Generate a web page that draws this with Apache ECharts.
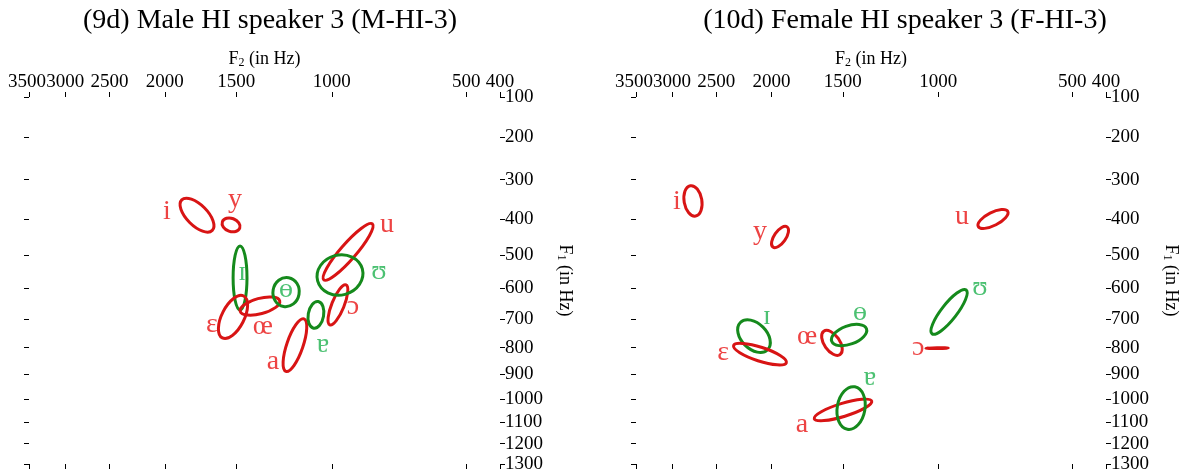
<!DOCTYPE html>
<html><head><meta charset="utf-8">
<script src="https://cdn.jsdelivr.net/npm/echarts@6/dist/echarts.min.js"></script>
<style>html,body{margin:0;padding:0;background:#fff}#c{width:1189px;height:474px}</style>
</head><body><div id="c"></div>
<script>
// ---------- data ----------
const panelTitles = ['(9d) Male HI speaker 3 (M-HI-3)', '(10d) Female HI speaker 3 (F-HI-3)'];
const f2Ticks = [3500, 3000, 2500, 2000, 1500, 1000, 500, 400];
const f1Ticks = [100, 200, 300, 400, 500, 600, 700, 800, 900, 1000, 1100, 1200, 1300];
// ellipses: [vowel, set, F2 centre (Hz), F1 centre (Hz), semi-major (Bark), semi-minor (Bark), tilt (deg)]
const maleEllipses = [
  ['i', 1, 1758, 390, 0.56, 0.27, -45],
  ['y', 1, 1532, 416, 0.24, 0.17, -20],
  ['ɪ', 2, 1477, 568, 0.83, 0.18, 90],
  ['ɛ', 1, 1520, 693, 0.61, 0.29, 63],
  ['œ', 1, 1361, 657, 0.53, 0.20, 15],
  ['ɵ', 2, 1220, 612, 0.38, 0.34, 80],
  ['a', 1, 1175, 791, 0.72, 0.21, 71],
  ['ɐ', 2, 1073, 686, 0.35, 0.20, 80],
  ['ɔ', 1, 973, 653, 0.56, 0.16, 68],
  ['u', 1, 929, 491, 0.96, 0.20, 49],
  ['ʊ', 2, 964, 559, 0.60, 0.52, 15]
];
// labels: [vowel, set, F2 (Hz), F1 (Hz)]
const maleLabels = [
  ['i', 1, 1983, 382], ['y', 1, 1508, 351], ['ɪ', 2, 1465, 553], ['ɛ', 1, 1655, 720],
  ['œ', 1, 1344, 727], ['ɵ', 2, 1220, 605], ['a', 1, 1289, 853], ['ɐ', 2, 1040, 791],
  ['ɔ', 1, 908, 660], ['u', 1, 772, 416], ['ʊ', 2, 803, 550]
];
const femaleEllipses = [
  ['i', 1, 2750, 353, 0.40, 0.23, 100],
  ['y', 1, 1933, 449, 0.32, 0.15, 55],
  ['ɪ', 2, 2146, 759, 0.50, 0.33, -45],
  ['ɛ', 1, 2095, 824, 0.72, 0.18, -18],
  ['œ', 1, 1568, 783, 0.37, 0.20, -55],
  ['ɵ', 2, 1462, 755, 0.48, 0.24, 20],
  ['a', 1, 1499, 1047, 0.78, 0.17, 17],
  ['ɐ', 2, 1450, 1039, 0.56, 0.36, 80],
  ['u', 1, 773, 400, 0.43, 0.17, 27],
  ['ʊ', 2, 952, 676, 0.72, 0.20, 52],
  ['ɔ', 1, 1005, 802, 0.29, 0.01, 0]
];
const femaleLabels = [
  ['i', 1, 2939, 356], ['y', 1, 2095, 435], ['ɪ', 2, 2037, 693], ['ɛ', 1, 2432, 820],
  ['œ', 1, 1734, 762], ['ɵ', 2, 1398, 680], ['a', 1, 1770, 1113], ['ɐ', 2, 1341, 915],
  ['u', 1, 897, 395], ['ʊ', 2, 824, 599], ['ɔ', 1, 1093, 802]
];

// ---------- scale (Traunmüller Bark) ----------
function bark(f) { let z = 26.81 * f / (1960 + f) - 0.53; if (z < 2) z = z + 0.15 * (2 - z); return z; }
const f2Bark = f2Ticks.map(bark), f1Bark = f1Ticks.map(bark);
function fmt(ticks, barks) { return v => { const i = barks.findIndex(b => Math.abs(b - v) < 1e-6); return i >= 0 ? String(ticks[i]) : ''; }; }

const FONT = "'Liberation Serif','DejaVu Serif','Times New Roman',serif";
const ELL_COL = { 1: '#d81414', 2: '#158a1c' };
const LAB_COL = { 1: '#e81414', 2: '#1fb24f' };

const grids = [
  { left: 29, width: 471, top: 97, height: 367 },
  { left: 636, width: 470, top: 97, height: 367 }
];
const titleCenters = [265, 900];

const xAxes = [], yAxes = [], series = [], titles = [];
const labelBase = { show: true, margin: 5, hideOverlap: false, showMinLabel: true, showMaxLabel: true,
  fontFamily: FONT, fontSize: 19, color: '#000', formatter: fmt(f2Ticks, f2Bark) };
grids.forEach((g, gi) => {
  const tickStyle = { show: true, inside: false, length: 5, lineStyle: { color: '#000', width: 1 }, customValues: f2Bark };
  const xBase = { type: 'value', gridIndex: gi, inverse: true, min: bark(400), max: bark(3500),
    axisLine: { show: false }, splitLine: { show: false } };
  // top axis: ticks + labels (except the outermost, drawn by a second top axis so overlap culling keeps both)
  xAxes.push(Object.assign({}, xBase, {
    position: 'top',
    axisTick: tickStyle,
    axisLabel: Object.assign({}, labelBase, { customValues: f2Bark.slice(1) }),
    name: '{m|F}{s|2}{m| (in Hz)}', nameLocation: 'middle', nameGap: 28, nameMoveOverlap: false,
    nameTextStyle: { rich: { m: { fontFamily: FONT, fontSize: 18, color: '#000', lineHeight: 20 },
      s: { fontFamily: FONT, fontSize: 12, color: '#000', lineHeight: 11, verticalAlign: 'bottom' } } }
  }));
  xAxes.push(Object.assign({}, xBase, {
    position: 'bottom', axisTick: tickStyle, axisLabel: { show: false }
  }));
  xAxes.push(Object.assign({}, xBase, {
    position: 'top', axisTick: { show: false },
    axisLabel: Object.assign({}, labelBase, { customValues: f2Bark.slice(0, 1), padding: [0, 4, 0, 0] })
  }));
  const yTick = { show: true, inside: false, length: 5, lineStyle: { color: '#000', width: 1 }, customValues: f1Bark };
  yAxes.push({
    type: 'value', gridIndex: gi, position: 'right', inverse: true,
    min: bark(100), max: bark(1300),
    axisLine: { show: false }, splitLine: { show: false },
    axisTick: yTick,
    axisLabel: { show: true, customValues: f1Bark, formatter: fmt(f1Ticks, f1Bark), margin: 5, hideOverlap: false,
      showMinLabel: true, showMaxLabel: true,
      fontFamily: FONT, fontSize: 19, color: '#000', align: 'left' },
    name: '{m|F}{s|1}{m| (in Hz)}', nameLocation: 'middle', nameGap: 55, nameRotate: -90, nameMoveOverlap: false,
    nameTextStyle: { rich: { m: { fontFamily: FONT, fontSize: 18, color: '#000', lineHeight: 20 },
      s: { fontFamily: FONT, fontSize: 12, color: '#000', lineHeight: 11, verticalAlign: 'bottom' } } }
  });
  yAxes.push({
    type: 'value', gridIndex: gi, position: 'left', inverse: true,
    min: bark(100), max: bark(1300),
    axisLine: { show: false }, splitLine: { show: false },
    axisTick: yTick, axisLabel: { show: false }
  });
  titles.push({ text: panelTitles[gi], left: titleCenters[gi], top: 2, textAlign: 'center',
    textStyle: { fontFamily: FONT, fontSize: 28, fontWeight: 'normal', color: '#000' } });

  const ell = gi === 0 ? maleEllipses : femaleEllipses;
  const lab = gi === 0 ? maleLabels : femaleLabels;
  series.push({
    type: 'custom', xAxisIndex: gi * 3, yAxisIndex: gi * 2, silent: true, clip: false,
    data: ell.map(e => [bark(e[2]), bark(e[3]), e[4], e[5], e[6], e[1]]),
    renderItem: (params, api) => {
      const c = api.coord([api.value(0), api.value(1)]);
      const s = api.size([1, 1]);
      const k = (s[0] + s[1]) / 2;
      return {
        type: 'ellipse', x: c[0], y: c[1], rotation: api.value(4) * Math.PI / 180,
        shape: { cx: 0, cy: 0, rx: api.value(2) * k, ry: api.value(3) * k },
        style: { fill: 'none', stroke: ELL_COL[api.value(5)], lineWidth: 3 }
      };
    }
  });
  [1, 2].forEach(set => {
    series.push({
      type: 'scatter', xAxisIndex: gi * 3, yAxisIndex: gi * 2, silent: true,
      symbol: 'circle', symbolSize: 1, itemStyle: { color: 'rgba(0,0,0,0)' },
      data: lab.filter(l => l[1] === set).map(l => ({ name: l[0], value: [bark(l[2]), bark(l[3])] })),
      label: { show: true, position: 'inside', formatter: '{b}', fontFamily: FONT, fontSize: 28, color: LAB_COL[set] }
    });
  });
});

const chart = echarts.init(document.getElementById('c'), null, { renderer: 'canvas' });
chart.setOption({
  animation: false, backgroundColor: '#fff',
  title: titles,
  grid: grids.map(g => Object.assign({ outerBoundsMode: 'none' }, g)),
  xAxis: xAxes, yAxis: yAxes, series: series
});
</script></body></html>
